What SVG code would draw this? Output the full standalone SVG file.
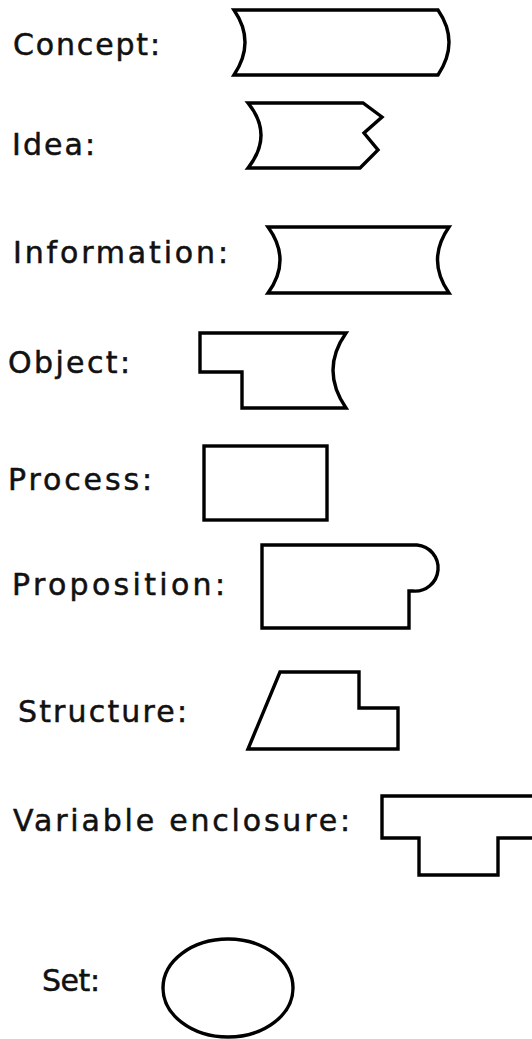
<svg xmlns="http://www.w3.org/2000/svg" width="532" height="1039" viewBox="0 0 532 1039">
<style>
.s{fill:#fff;stroke:#000;stroke-width:3.4;stroke-linejoin:miter}
.t{font-family:"DejaVu Sans",Verdana,sans-serif;font-size:30px;fill:#111;stroke:#111;stroke-width:0.5}
</style>
<rect width="532" height="1039" fill="#fff"/>
<g id="concept"><text class="t" x="13" y="55" textLength="147" lengthAdjust="spacing">Concept:</text><path class="s" d="M234,10 H438 Q460,42 438,75 H234 Q256,42 234,10 Z"/></g>
<g id="idea"><text class="t" x="12" y="155" textLength="83" lengthAdjust="spacing">Idea:</text><path class="s" d="M248,103 H363 L382,117 L364,133 L378,150 L360,168 H248 Q274,135 248,103 Z"/></g>
<g id="information"><text class="t" x="13" y="263" textLength="215" lengthAdjust="spacing">Information:</text><path class="s" d="M268,227 H449 Q426,260 449,293 H268 Q292,260 268,227 Z"/></g>
<g id="object"><text class="t" x="8" y="373" textLength="122" lengthAdjust="spacing">Object:</text><path class="s" d="M200,333 H346 Q320,370 346,408 H242 V372 H200 Z"/></g>
<g id="process"><text class="t" x="8" y="490" textLength="144" lengthAdjust="spacing">Process:</text><rect class="s" x="204" y="446" width="123" height="74"/></g>
<g id="proposition"><text class="t" x="12" y="595" textLength="213" lengthAdjust="spacing">Proposition:</text><path class="s" d="M262,545 H417 A23,23 0 0 1 413,591 H409 V628 H262 Z"/></g>
<g id="structure"><text class="t" x="18" y="722" textLength="169" lengthAdjust="spacing">Structure:</text><path class="s" d="M280,672 H359 V708 H398 V749 H248 Z"/></g>
<g id="variable-enclosure"><text class="t" x="13" y="831" textLength="337" lengthAdjust="spacing">Variable enclosure:</text><path class="s" d="M534,796 H382 V838 H419 V875 H498 V838 H534"/></g>
<g id="set"><text class="t" x="42" y="991" textLength="58" lengthAdjust="spacing">Set:</text><ellipse class="s" cx="228" cy="988" rx="65" ry="49"/></g>
<g id="connectors"></g>
</svg>
